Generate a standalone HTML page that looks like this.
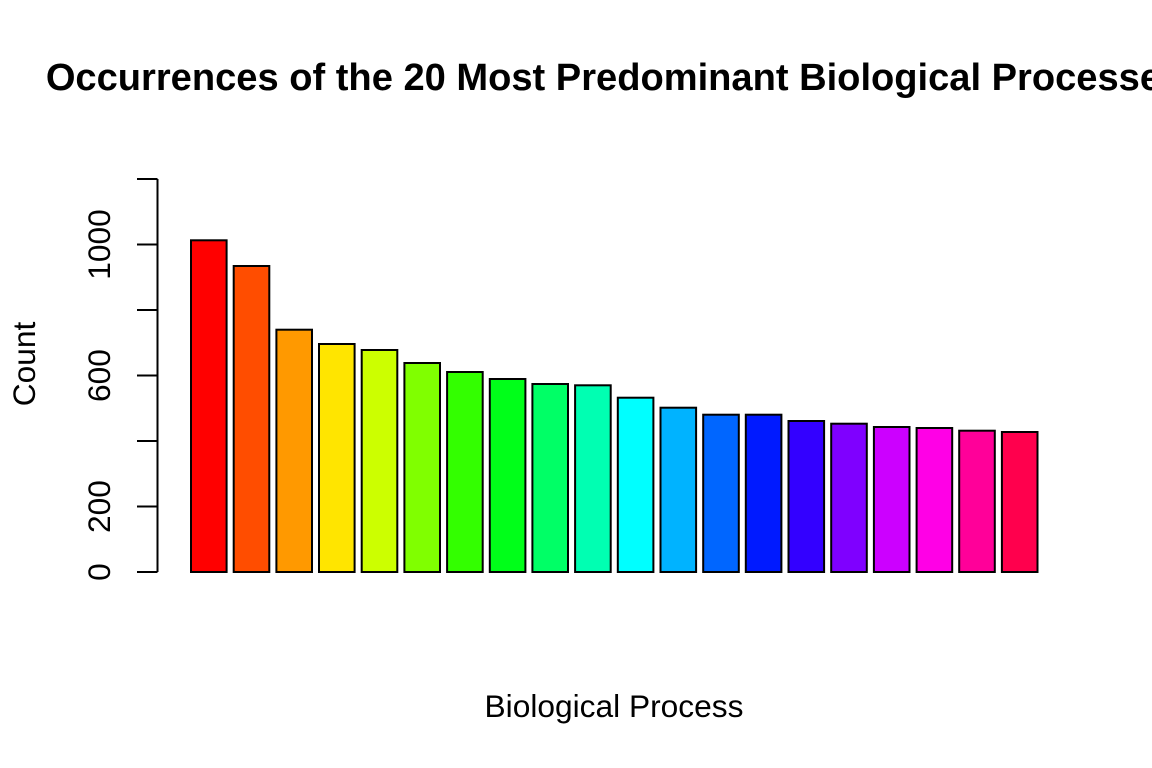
<!DOCTYPE html>
<html>
<head>
<meta charset="utf-8">
<style>
html,body{margin:0;padding:0;background:#fff;width:1152px;height:768px;overflow:hidden;}
svg{display:block;}
text{font-family:"Liberation Sans",Arial,sans-serif;fill:#000;}
</style>
</head>
<body>
<svg width="1152" height="768" viewBox="0 0 1152 768" xmlns="http://www.w3.org/2000/svg">
<rect x="0" y="0" width="1152" height="768" fill="#fff"/>
<text x="614" y="90" text-anchor="middle" font-size="38.1" font-weight="bold">Occurrences of the 20 Most Predominant Biological Processes</text>
<g stroke="#000" stroke-width="2" fill="none">
<line x1="157.5" y1="179" x2="157.5" y2="572"/>
<line x1="137" y1="572" x2="157.5" y2="572"/>
<line x1="137" y1="506.5" x2="157.5" y2="506.5"/>
<line x1="137" y1="441" x2="157.5" y2="441"/>
<line x1="137" y1="375.5" x2="157.5" y2="375.5"/>
<line x1="137" y1="310" x2="157.5" y2="310"/>
<line x1="137" y1="244.5" x2="157.5" y2="244.5"/>
<line x1="137" y1="179" x2="157.5" y2="179"/>
</g>
<g font-size="31.7" text-anchor="middle">
<text transform="translate(110,572) rotate(-90)">0</text>
<text transform="translate(110,506.5) rotate(-90)">200</text>
<text transform="translate(110,375.5) rotate(-90)">600</text>
<text transform="translate(110,244.5) rotate(-90)">1000</text>
<text transform="translate(35,364) rotate(-90)">Count</text>
<text x="614" y="717">Biological Process</text>
</g>
<g stroke="#000" stroke-width="2">
<rect x="191.0" y="240.3" width="35.6" height="331.7" fill="#FF0000"/>
<rect x="233.7" y="266.0" width="35.6" height="306.0" fill="#FF4D00"/>
<rect x="276.4" y="329.7" width="35.6" height="242.3" fill="#FF9900"/>
<rect x="319.0" y="344.0" width="35.6" height="228.0" fill="#FFE500"/>
<rect x="361.7" y="350.0" width="35.6" height="222.0" fill="#CCFF00"/>
<rect x="404.4" y="363.0" width="35.6" height="209.0" fill="#80FF00"/>
<rect x="447.1" y="372.0" width="35.6" height="200.0" fill="#33FF00"/>
<rect x="489.8" y="379.0" width="35.6" height="193.0" fill="#00FF19"/>
<rect x="532.4" y="384.0" width="35.6" height="188.0" fill="#00FF66"/>
<rect x="575.1" y="385.3" width="35.6" height="186.7" fill="#00FFB2"/>
<rect x="617.8" y="397.7" width="35.6" height="174.3" fill="#00FFFF"/>
<rect x="660.5" y="407.7" width="35.6" height="164.3" fill="#00B3FF"/>
<rect x="703.2" y="414.7" width="35.6" height="157.3" fill="#0066FF"/>
<rect x="745.8" y="414.7" width="35.6" height="157.3" fill="#001AFF"/>
<rect x="788.5" y="421.0" width="35.6" height="151.0" fill="#3300FF"/>
<rect x="831.2" y="423.7" width="35.6" height="148.3" fill="#7F00FF"/>
<rect x="873.9" y="427.0" width="35.6" height="145.0" fill="#CC00FF"/>
<rect x="916.6" y="428.0" width="35.6" height="144.0" fill="#FF00E6"/>
<rect x="959.2" y="430.7" width="35.6" height="141.3" fill="#FF0099"/>
<rect x="1001.9" y="432.0" width="35.6" height="140.0" fill="#FF004D"/>
</g>
</svg>
</body>
</html>
